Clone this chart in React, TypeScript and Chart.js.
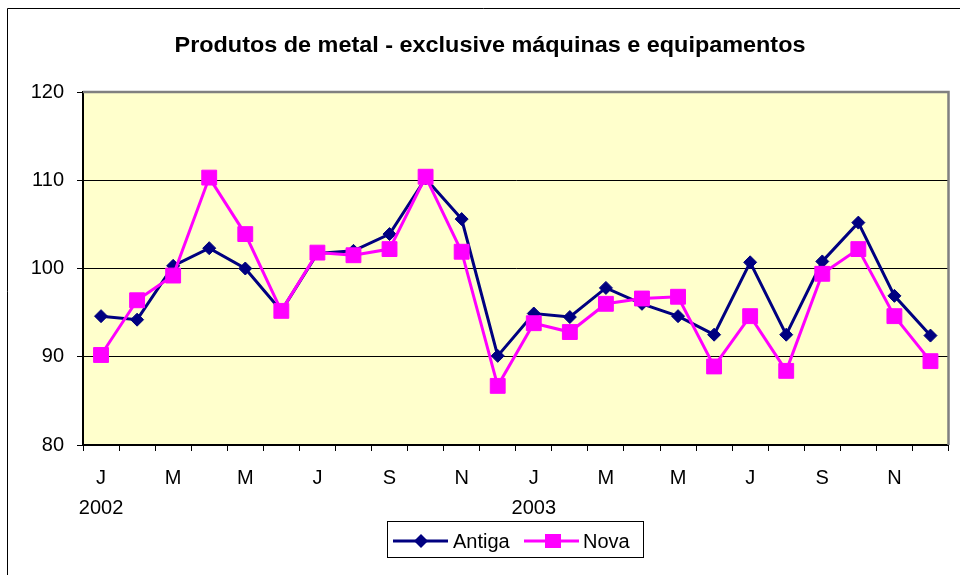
import React, { useEffect, useRef } from "react";
import { Chart, registerables } from "chart.js";

Chart.register(...registerables);

const categories = [
  "jan/02", "fev/02", "mar/02", "abr/02", "mai/02", "jun/02", "jul/02", "ago/02", "set/02", "out/02", "nov/02", "dez/02",
  "jan/03", "fev/03", "mar/03", "abr/03", "mai/03", "jun/03", "jul/03", "ago/03", "set/03", "out/03", "nov/03", "dez/03",
];
const tickLabels = ["J", "", "M", "", "M", "", "J", "", "S", "", "N", "", "J", "", "M", "", "M", "", "J", "", "S", "", "N", ""];
const yearLabels = ["2002", "2003"];
const antiga = [94.6, 94.2, 100.3, 102.3, 100.0, 95.2, 101.7, 102.0, 103.9, 110.2, 105.6, 90.1,
  94.9, 94.5, 97.8, 96.0, 94.6, 92.5, 100.7, 92.5, 100.8, 105.2, 96.9, 92.4];
const nova = [90.2, 96.4, 99.2, 110.3, 103.9, 95.2, 101.8, 101.5, 102.2, 110.4, 101.9, 86.7,
  93.8, 92.8, 96.0, 96.6, 96.8, 88.9, 94.6, 88.4, 99.4, 102.2, 94.6, 89.5];
const yTicks = [80, 90, 100, 110, 120];
const title = "Produtos de metal - exclusive máquinas e equipamentos";
const seriesNames = ["Antiga", "Nova"];

const FONT = "'Liberation Sans', Arial, sans-serif";
const NAVY = "#000080";
const MAGENTA = "#FF00FF";

const decorPlugin = {
  id: "decor",
  beforeDraw(chart: any) {
    const { ctx, chartArea: a } = chart;
    ctx.save();
    ctx.fillStyle = "#ffffff";
    ctx.fillRect(0, 0, chart.width, chart.height);
    ctx.strokeStyle = "#000000";
    ctx.lineWidth = 1;
    ctx.beginPath();
    ctx.moveTo(7.5, chart.height);
    ctx.lineTo(7.5, 8.5);
    ctx.lineTo(chart.width, 8.5);
    ctx.stroke();
    ctx.fillStyle = "#FFFFCC";
    ctx.fillRect(a.left, a.top, a.right - a.left, a.bottom - a.top);
    ctx.restore();
  },
  beforeDatasetsDraw(chart: any) {
    const { ctx, chartArea: a } = chart;
    ctx.save();
    ctx.strokeStyle = "#808080";
    ctx.lineWidth = 2.5;
    ctx.beginPath();
    ctx.moveTo(a.left, a.top);
    ctx.lineTo(a.right, a.top);
    ctx.lineTo(a.right, a.bottom);
    ctx.stroke();
    ctx.restore();
  },
  afterDraw(chart: any) {
    const { ctx } = chart;
    ctx.save();
    // title
    ctx.fillStyle = "#000";
    ctx.font = `bold 22px ${FONT}`;
    ctx.textAlign = "center";
    ctx.textBaseline = "middle";
    ctx.save();
    ctx.translate(490, 46);
    ctx.scale(1.064, 1);
    ctx.fillText(title, 0, 0);
    ctx.restore();
    // legend
    const bx = 387.5, by = 521.5, bw = 256, bh = 36;
    ctx.fillStyle = "#fff";
    ctx.fillRect(bx, by, bw, bh);
    ctx.strokeStyle = "#000";
    ctx.lineWidth = 1;
    ctx.strokeRect(bx, by, bw, bh);
    const cy = 541;
    // Antiga
    ctx.strokeStyle = NAVY;
    ctx.lineWidth = 3;
    ctx.beginPath();
    ctx.moveTo(393, cy);
    ctx.lineTo(448, cy);
    ctx.stroke();
    ctx.fillStyle = NAVY;
    ctx.beginPath();
    ctx.moveTo(421 - 7, cy);
    ctx.lineTo(421, cy - 7);
    ctx.lineTo(421 + 7, cy);
    ctx.lineTo(421, cy + 7);
    ctx.closePath();
    ctx.fill();
    // Nova
    ctx.strokeStyle = MAGENTA;
    ctx.beginPath();
    ctx.moveTo(524, cy);
    ctx.lineTo(579, cy);
    ctx.stroke();
    ctx.fillStyle = MAGENTA;
    ctx.fillRect(553 - 8, cy - 7, 16, 14);
    ctx.fillStyle = "#000";
    ctx.font = `20px ${FONT}`;
    ctx.textAlign = "left";
    ctx.fillText(seriesNames[0], 453, cy + 1);
    ctx.fillText(seriesNames[1], 583, cy + 1);
    ctx.restore();
  },
};

export default function App() {
  const ref = useRef<HTMLCanvasElement | null>(null);
  useEffect(() => {
    if (!ref.current) return;
    const chart = new Chart(ref.current, {
      type: "line",
      data: {
        labels: categories,
        datasets: [
          {
            label: seriesNames[0],
            data: antiga,
            borderColor: NAVY,
            backgroundColor: NAVY,
            borderWidth: 3,
            pointStyle: "rectRot",
            pointRadius: 6.5,
            pointBackgroundColor: NAVY,
            pointBorderColor: NAVY,
            pointBorderWidth: 1,
            tension: 0,
            order: 1,
          },
          {
            label: seriesNames[1],
            data: nova,
            borderColor: MAGENTA,
            backgroundColor: MAGENTA,
            borderWidth: 3,
            pointStyle: "rect",
            pointRadius: 10.5,
            pointBackgroundColor: MAGENTA,
            pointBorderColor: MAGENTA,
            pointBorderWidth: 1,
            tension: 0,
            order: 0,
          },
        ],
      },
      options: {
        animation: false,
        responsive: false,
        devicePixelRatio: 1,
        layout: { padding: { left: 0, top: 92, right: 8, bottom: 50 } },
        plugins: {
          legend: { display: false },
          title: { display: false },
          tooltip: { enabled: false },
        },
        scales: {
          x: {
            type: "category",
            offset: true,
            afterFit: (s: any) => { s.height = 80; },
            grid: {
              offset: true,
              drawOnChartArea: false,
              drawTicks: true,
              tickLength: 6,
              color: "#000",
              lineWidth: 1,
            },
            border: { display: true, color: "#000", width: 2 },
            ticks: {
              autoSkip: false,
              maxRotation: 0,
              minRotation: 0,
              padding: 12,
              color: "#000",
              font: { family: FONT, size: 20, lineHeight: 1.5 },
              callback: (_v: any, i: number) =>
                i % 12 === 0 ? [tickLabels[i], yearLabels[i / 12]] : tickLabels[i],
            },
          },
          y: {
            min: yTicks[0],
            max: yTicks[yTicks.length - 1],
            afterFit: (s: any) => { s.width = 83; },
            afterBuildTicks: (s: any) => { s.ticks = yTicks.map((v) => ({ value: v })); },
            grid: {
              drawTicks: true,
              tickLength: 6,
              color: "#000",
              lineWidth: 1,
            },
            border: { display: true, color: "#000", width: 2 },
            ticks: {
              padding: 13,
              color: "#000",
              font: { family: FONT, size: 20 },
            },
          },
        },
      },
      plugins: [decorPlugin],
    });
    return () => chart.destroy();
  }, []);
  return (
    <div style={{ position: "fixed", left: 0, top: 0, width: 960, height: 575 }}>
      <canvas ref={ref} width={960} height={575} style={{ display: "block", width: 960, height: 575 }} />
    </div>
  );
}
